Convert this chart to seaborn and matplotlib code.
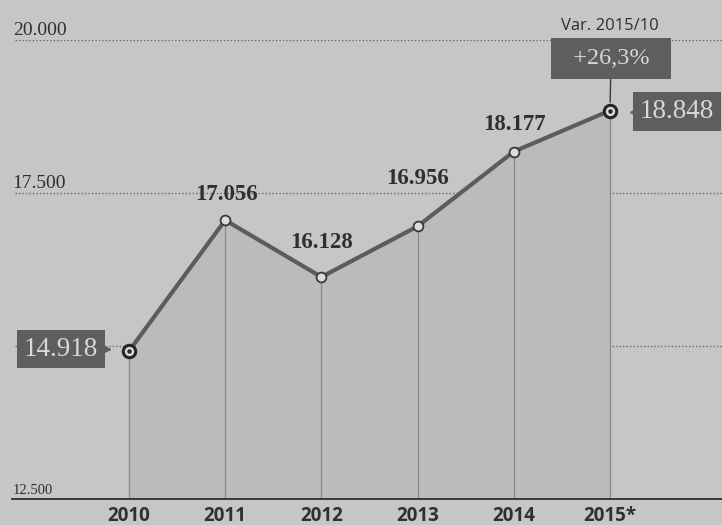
import matplotlib
matplotlib.use("Agg")
import matplotlib.pyplot as plt
import matplotlib.transforms as mtrans
import seaborn as sns
import pandas as pd

# ---- data ----
years = ["2010", "2011", "2012", "2013", "2014", "2015*"]
values = [14918, 17056, 16128, 16956, 18177, 18848]
value_labels = ["14.918", "17.056", "16.128", "16.956", "18.177", "18.848"]
ytick_vals = [20000, 17500, 12500]
ytick_labels = ["20.000", "17.500", "12.500"]
grid_vals = [20000, 17500, 15000]
var_title = "Var. 2015/10"
var_label = "+26,3%"

df = pd.DataFrame({"pos": range(len(years)), "value": values, "year": years})

sns.set_style("white")
plt.rcParams["font.family"] = ["DejaVu Sans"]

BG = "#c6c6c6"
FILL = "#bbbbbb"
LINE = "#5c5c5c"
DARK = "#2f2f2f"
BOX = "#5e5e5e"
BOXTXT = "#d8d8d8"

fig = plt.figure(figsize=(7.22, 5.25), dpi=100, facecolor=BG)
ax = fig.add_axes([12 / 722, 26 / 525, 710 / 722, 459 / 525])
ax.set_facecolor(BG)
ax.set_xlim(-1.216, 6.164)
ax.set_ylim(12500, 20000)

# grid lines (dotted)
for g in grid_vals:
    ax.axhline(g, xmin=0.004, xmax=1, color="#6a6a6a", lw=1.0,
               linestyle=(0, (1, 1.5)), zorder=1)

# area fill under line
ax.fill_between(df["pos"], df["value"], 12500, color=FILL, zorder=1.5, lw=0)

# vertical drop lines
ax.vlines(df["pos"], 12500, df["value"], color="#8a8a8a", lw=0.9, zorder=2)

# main line
sns.lineplot(data=df, x="pos", y="value", ax=ax, color=LINE, linewidth=3.0,
             zorder=3, legend=False)

# markers
mid = df.iloc[1:-1]
ends = df.iloc[[0, -1]]
ax.scatter(mid["pos"], mid["value"], s=50, facecolor="#dcdcdc",
           edgecolor="#3a3a3a", linewidth=1.3, zorder=4)
ax.scatter(ends["pos"], ends["value"], s=80, facecolor="#dcdcdc",
           edgecolor="#262626", linewidth=2.2, zorder=4)
ax.scatter(ends["pos"], ends["value"], s=5, color="#262626", zorder=5)

# value labels for middle points
offsets = {1: (1, 26), 2: (0, 34), 3: (0, 48), 4: (1, 27)}
for i, (dx, dy) in offsets.items():
    ax.annotate(value_labels[i], (df["pos"][i], df["value"][i]),
                xytext=(dx, dy), textcoords="offset pixels",
                ha="center", va="center", fontsize=16.5, fontweight="bold",
                family="Liberation Serif", color=DARK, zorder=6)

# boxed labels on first & last
boxkw = dict(boxstyle="square,pad=0.25", fc=BOX, ec="none")
ax.annotate(value_labels[0], (df["pos"][0], df["value"][0]),
            xytext=(-68, 2), textcoords="offset pixels", ha="center",
            va="center", fontsize=19.5, family="Liberation Serif",
            color=BOXTXT, bbox=boxkw, zorder=6)
ax.annotate(value_labels[-1], (df["pos"][5], df["value"][5]),
            xytext=(67, -1), textcoords="offset pixels", ha="center",
            va="center", fontsize=19.5, family="Liberation Serif",
            color=BOXTXT, bbox=boxkw, zorder=6)
# little pointers on boxes
tr_r = mtrans.offset_copy(ax.transData, fig=fig, x=-23, y=2, units="dots")
ax.plot(df["pos"][0], df["value"][0], marker=">", ms=6, color=BOX,
        transform=tr_r, zorder=6, clip_on=False)
tr_l = mtrans.offset_copy(ax.transData, fig=fig, x=24, y=-1, units="dots")
ax.plot(df["pos"][5], df["value"][5], marker="<", ms=6, color=BOX,
        transform=tr_l, zorder=6, clip_on=False)

# variation box with connector
ax.annotate("  " + var_label + "  ", (df["pos"][5], df["value"][5]),
            xytext=(1, 52), textcoords="offset pixels", ha="center",
            va="center", fontsize=17.5, family="Liberation Serif",
            color=BOXTXT,
            bbox=dict(boxstyle="square,pad=0.4", fc=BOX, ec="none"),
            arrowprops=dict(arrowstyle="-", color="#3a3a3a", lw=1.0,
                            shrinkA=0, shrinkB=6),
            zorder=6, annotation_clip=False)
ax.annotate(var_title, (df["pos"][5], df["value"][5]),
            xytext=(0, 85), textcoords="offset pixels", ha="center",
            va="center", fontsize=12, family="Open Sans", color=DARK,
            zorder=6, annotation_clip=False)

# y labels above gridlines
blend = mtrans.blended_transform_factory(ax.transAxes, ax.transData)
ysizes = [14, 14, 10.5]
for v, lab, fs in zip(ytick_vals, ytick_labels, ysizes):
    t = ax.text(0.001, v, lab, ha="left", va="baseline",
                fontsize=fs, family="Liberation Serif", color=DARK, zorder=6)
    t.set_transform(mtrans.offset_copy(blend, fig=fig, x=0, y=5, units="dots"))

# x (year) labels just under the baseline
ax.set_yticks([])
ax.set_xticks(df["pos"], labels=[""] * len(years))
ax.tick_params(axis="x", length=0)
base_tr = mtrans.offset_copy(ax.transData, fig=fig, x=0, y=-22, units="dots")
for p, y in zip(df["pos"], years):
    ax.text(p, 12500, y, ha="center", va="baseline", fontsize=13.5,
            fontweight="bold", family="Open Sans", color="#303030",
            transform=base_tr, clip_on=False)
ax.set_xlabel("")
ax.set_ylabel("")

for s in ["top", "left", "right"]:
    ax.spines[s].set_visible(False)
ax.spines["bottom"].set_color("#3a3a3a")
ax.spines["bottom"].set_linewidth(1.4)

fig.savefig("out.png", dpi=100, facecolor=BG)
